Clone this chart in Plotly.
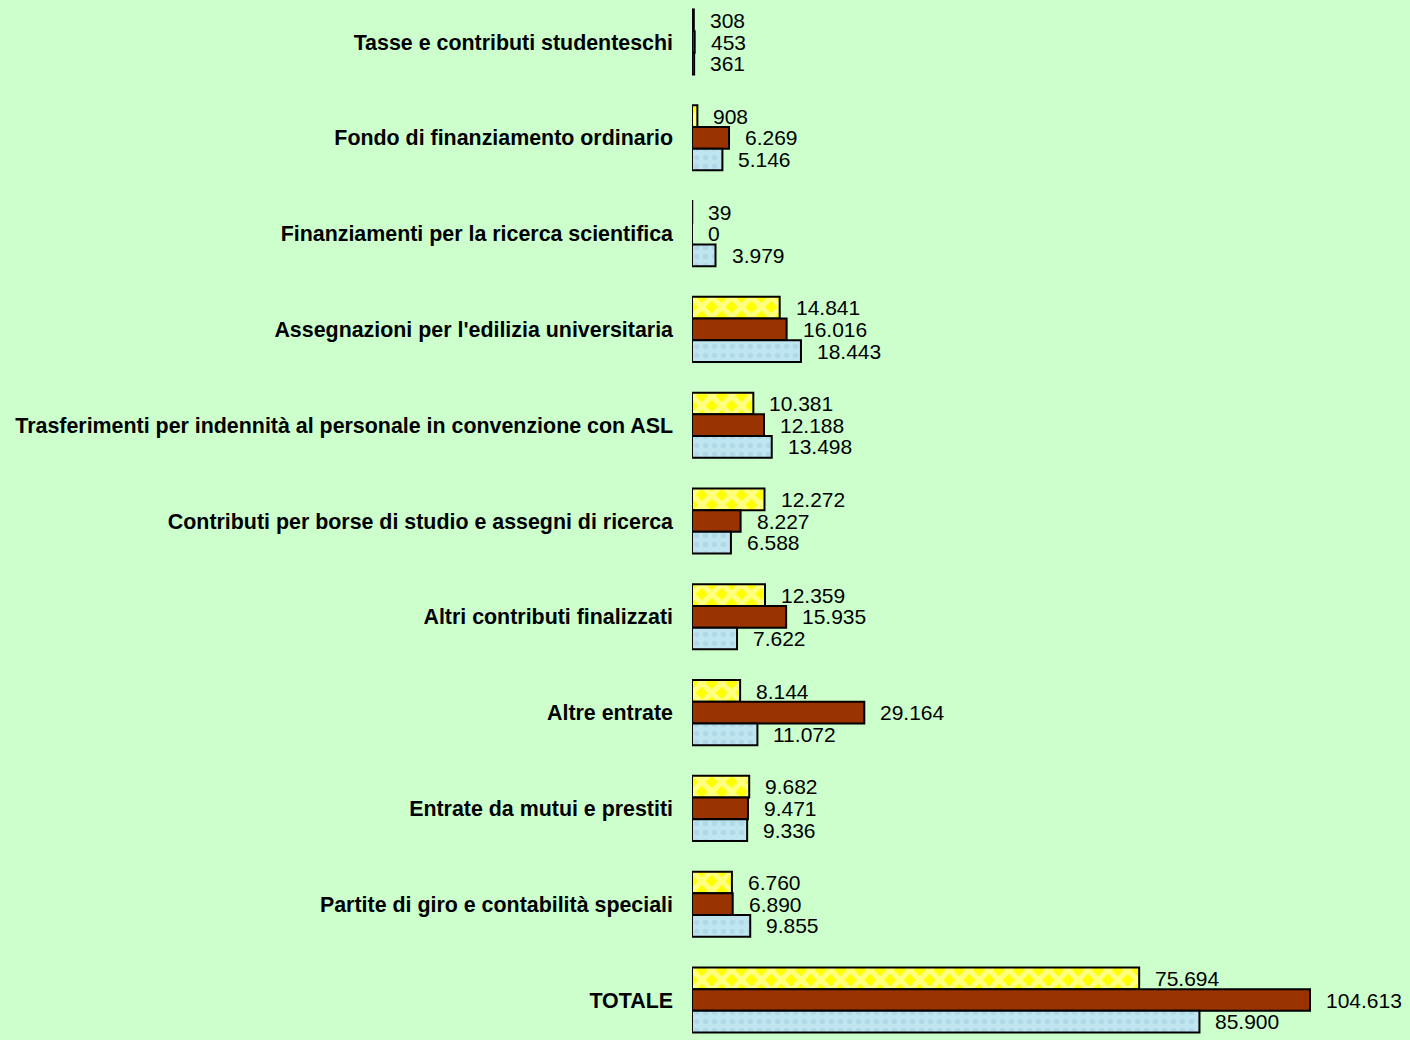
import plotly.graph_objects as go

categories = [
    "Tasse e contributi studenteschi",
    "Fondo di finanziamento ordinario",
    "Finanziamenti per la ricerca scientifica",
    "Assegnazioni per l'edilizia universitaria",
    "Trasferimenti per indennità al personale in convenzione con ASL",
    "Contributi per borse di studio e assegni di ricerca",
    "Altri contributi finalizzati",
    "Altre entrate",
    "Entrate da mutui e prestiti",
    "Partite di giro e contabilità speciali",
    "TOTALE",
]
serie_a = [308, 908, 39, 14841, 10381, 12272, 12359, 8144, 9682, 6760, 75694]
serie_b = [453, 6269, 0, 16016, 12188, 8227, 15935, 29164, 9471, 6890, 104613]
serie_c = [361, 5146, 3979, 18443, 13498, 6588, 7622, 11072, 9336, 9855, 85900]

FONT = "Liberation Sans, Arial, sans-serif"

def fmt(v):
    return f"{v:,}".replace(",", ".")

fig = go.Figure()
fig.add_trace(go.Bar(
    y=categories, x=serie_a, orientation="h", name="A",
    marker=dict(color="#FFFF00", line=dict(color="black", width=2),
                pattern=dict(shape="x", fgcolor="white", size=14, solidity=0.62, fillmode="overlay")),
))
fig.add_trace(go.Bar(
    y=categories, x=serie_b, orientation="h", name="B",
    marker=dict(color="#993300", line=dict(color="black", width=2)),
))
fig.add_trace(go.Bar(
    y=categories, x=serie_c, orientation="h", name="C",
    marker=dict(color="#BFE5F0", line=dict(color="black", width=2),
                pattern=dict(shape=".", fgcolor="#A2CEDE", size=9, solidity=0.3, fillmode="overlay")),
))

shift = 21.6
annotations = []
for series, ys in ((serie_a, shift), (serie_b, 0), (serie_c, -shift)):
    for cat, v in zip(categories, series):
        annotations.append(dict(
            x=v, y=cat, xref="x", yref="y", text=fmt(v), showarrow=False,
            xanchor="left", yanchor="middle", xshift=14, yshift=ys,
            font=dict(family=FONT, size=21, color="black"),
        ))

fig.update_layout(
    width=1410, height=1040,
    margin=dict(l=692, r=0, t=0, b=0, pad=0),
    paper_bgcolor="#CCFFCC", plot_bgcolor="#CCFFCC",
    barmode="group", bargap=0.32, bargroupgap=0.0,
    showlegend=False,
    annotations=annotations,
    xaxis=dict(range=[0, 121540], visible=False, showgrid=False, zeroline=False),
    yaxis=dict(type="category", range=[10.4175, -0.4384], showgrid=False, zeroline=False,
               showline=False, ticks="", ticklabelstandoff=18,
               tickfont=dict(family=FONT, size=21.4, color="black", weight="bold")),
)

fig.write_html("out.html", config={"displayModeBar": False},
               post_script="document.body.style.margin='0px';document.body.style.overflow='hidden';")
